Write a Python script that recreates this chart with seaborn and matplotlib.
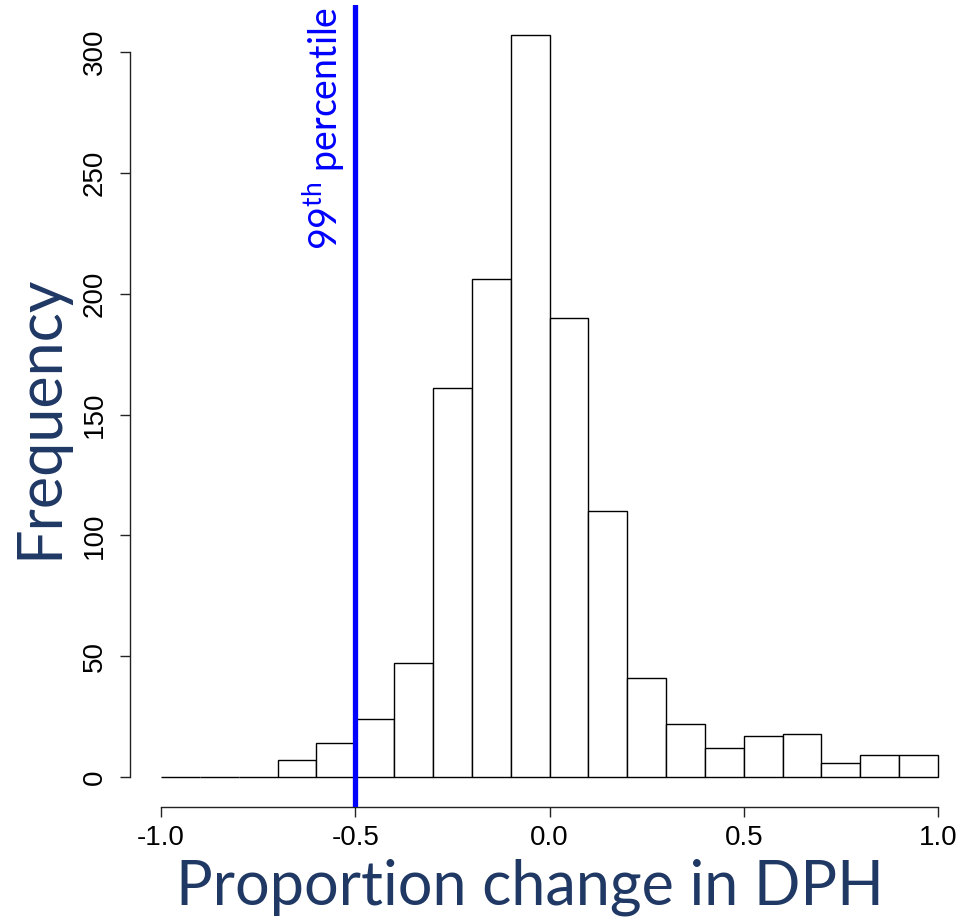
import matplotlib
matplotlib.use("Agg")
import matplotlib.pyplot as plt
import seaborn as sns
import numpy as np
import pandas as pd

# Histogram counts of proportion change in DPH, bins of width 0.1
bin_edges = [-1.0, -0.9, -0.8, -0.7, -0.6, -0.5, -0.4, -0.3, -0.2, -0.1, 0.0,
             0.1, 0.2, 0.3, 0.4, 0.5, 0.6, 0.7, 0.8, 0.9, 1.0]
counts = [0, 0, 0, 7, 14, 24, 47, 161, 206, 307, 190,
          110, 41, 22, 12, 17, 18, 6, 9, 9]
percentile_99 = -0.5
x_ticks = [-1.0, -0.5, 0.0, 0.5, 1.0]
x_tick_labels = ["-1.0", "-0.5", "0.0", "0.5", "1.0"]
y_ticks = [0, 50, 100, 150, 200, 250, 300]

sns.set_style("white")
plt.rcParams["font.family"] = ["Liberation Sans", "DejaVu Sans"]
plt.rcParams["mathtext.fontset"] = "custom"
plt.rcParams["mathtext.rm"] = "Lato"

navy = "#1f3864"
label_font = ["Lato", "DejaVu Sans"]

centers = [(a + b) / 2 for a, b in zip(bin_edges[:-1], bin_edges[1:])]
df = pd.DataFrame({"change": centers, "n": counts})

W, H = 960, 918
fig = plt.figure(figsize=(W / 100, H / 100), dpi=100)
ax = fig.add_axes([130 / W, (H - 806.7) / H, (960 - 130) / W, (806.7 - 5.4) / H])

sns.histplot(data=df, x="change", weights="n", bins=bin_edges, ax=ax,
             color="white", edgecolor="black", linewidth=1.0, alpha=1.0)

ax.set_xlim(-1.08, 1.0566)
ax.set_ylim(-12.28, 319.28)

for side in ["top", "right"]:
    ax.spines[side].set_visible(False)
ax.spines["left"].set_bounds(0, 300)
ax.spines["bottom"].set_bounds(-1.0, 1.0)
for side in ["left", "bottom"]:
    ax.spines[side].set_color("#222222")
    ax.spines[side].set_linewidth(1.0)

ax.set_xticks(x_ticks)
ax.set_xticklabels(x_tick_labels)
ax.set_yticks(y_ticks)
ax.set_yticklabels([str(v) for v in y_ticks], rotation=90, va="center")
ax.tick_params(axis="both", direction="out", length=7, width=1.0,
               bottom=True, left=True, color="#222222", labelsize=20,
               labelcolor="black", pad=6)
ax.tick_params(axis="y", pad=9)
ax.set_xlabel("")
ax.set_ylabel("")

ax.axvline(percentile_99, color="#0000ff", linewidth=3.8, zorder=5)
ax.text(percentile_99 - 0.025, 319.28 - 0.5, r"99$^{\mathrm{th}}$ percentile",
        rotation=90, rotation_mode="anchor", ha="right", va="bottom",
        color="#0000ff", fontsize=27, family=label_font)

fig.text(530 / W, 1 - 905 / H, "Proportion change in DPH", ha="center",
         va="baseline", color=navy, fontsize=44, family=label_font)
fig.text(57 / W, 1 - 417 / H, "Frequency", ha="center", va="baseline",
         rotation=90, rotation_mode="anchor", color=navy, fontsize=44,
         family=label_font)

fig.savefig("out.png", dpi=100)
